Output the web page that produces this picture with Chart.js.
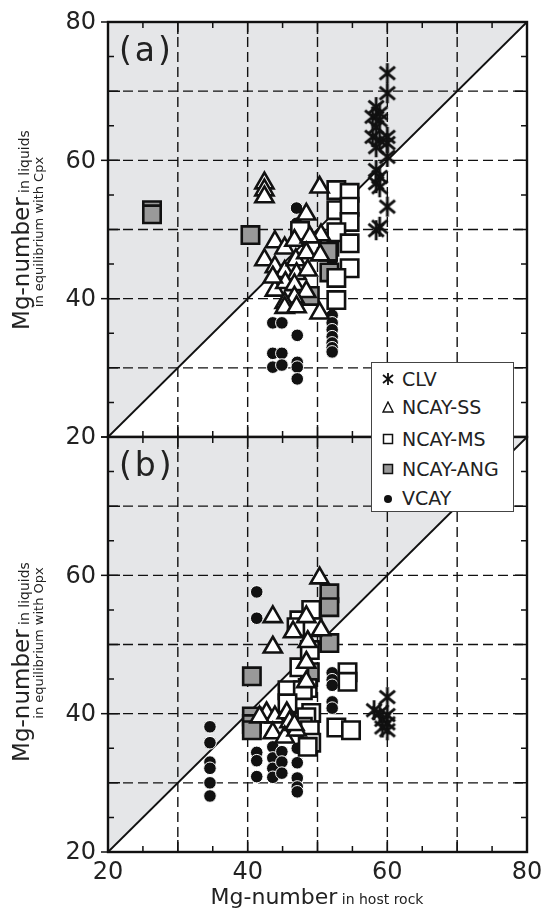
<!DOCTYPE html>
<html>
<head>
<meta charset="utf-8">
<script src="https://cdn.jsdelivr.net/npm/chart.js@4"></script>
<style>
body{margin:0;background:#fff;width:542px;height:913px;overflow:hidden;position:relative;font-family:"DejaVu Sans",sans-serif;color:#222}
canvas{position:absolute;left:0}
#ca{top:0}
#cb{top:425px}
#legend{position:absolute;left:371px;top:362px;width:143px;height:150px;background:#fff;border:1px solid #444;box-sizing:border-box;z-index:5}
.row{position:absolute;left:0;height:24px;line-height:24px;font-size:19px;white-space:nowrap}
.row svg{position:absolute;left:10px;top:6px}
.row span{position:absolute;left:30px}
</style>
</head>
<body>
<canvas id="ca" width="542" height="445"></canvas>
<canvas id="cb" width="542" height="488"></canvas>
<div id="legend">
  <div class="row" style="top:4px"><svg width="12" height="12"><g stroke="#111" stroke-width="1.8"><line x1="6" y1="0" x2="6" y2="12"/><line x1="1" y1="2" x2="11" y2="10"/><line x1="1" y1="10" x2="11" y2="2"/></g></svg><span>CLV</span></div>
  <div class="row" style="top:32px"><svg width="12" height="12"><polygon points="6,1 11,11 1,11" fill="#fff" stroke="#111" stroke-width="1.4"/></svg><span>NCAY-SS</span></div>
  <div class="row" style="top:64px"><svg width="12" height="12"><rect x="1.5" y="1.5" width="9" height="9" fill="#fff" stroke="#111" stroke-width="1.5"/></svg><span>NCAY-MS</span></div>
  <div class="row" style="top:94px"><svg width="12" height="12"><rect x="1.5" y="1.5" width="9" height="9" fill="#999" stroke="#111" stroke-width="1.5"/></svg><span>NCAY-ANG</span></div>
  <div class="row" style="top:123px"><svg width="12" height="12"><circle cx="6" cy="7" r="4" fill="#111"/></svg><span>VCAY</span></div>
</div>
<script>
// axis ticks
const axisTicks = [20, 30, 40, 50, 60, 70, 80];
const labelTicks = [20, 40, 60, 80];

// panel (a): liquids in equilibrium with Cpx  [host rock Mg#, liquid Mg#]
const clvA = [[60,72.6],[60,69.7],[58.4,67.7],[58.9,66.8],[57.9,66.3],[58.9,65.8],[58.4,64.8],[57.9,63.4],[58.9,62.9],[60,63.4],[60,62.5],[58.4,61.9],[60,60.5],[58.4,58.6],[58.9,57.6],[58.4,56.7],[58.9,56.1],[60,53.3],[58.9,50.4],[58.4,49.9]];
const ssA = [[42.4,56.7],[42.4,55.7],[42.4,54.7],[50.3,56.1],[48.4,52.2],[43.9,48.2],[45.3,47.3],[46.7,48.4],[50.5,49.2],[48.9,48.9],[42.4,45.6],[43.9,44.6],[45.3,43.9],[46.9,45.6],[47.0,43.6],[48.4,46.6],[48.6,44.1],[50.4,46.3],[43.9,41.2],[45.4,42.3],[46.7,42.0],[48.4,41.0],[46.7,40.2],[45.3,39.4],[45.3,38.7],[47.0,38.8],[50.3,37.9],[43.6,43.1]];
const msA = [[52.7,55.7],[54.6,55.3],[52.7,52.8],[54.6,53.3],[54.6,51.1],[52.7,49.6],[54.6,48.0],[54.6,44.4],[52.7,43.0],[52.7,39.8],[47.5,49.8]];
const angA = [[26.3,52.8],[26.3,52.2],[40.4,49.2],[51.7,47.5],[51.5,46.8],[51.7,43.8],[48.9,40.4]];
const vcA = [[47.0,53.1],[47.0,50.9],[52.1,45.6],[43.6,36.5],[44.9,36.5],[47.1,34.7],[43.6,32.1],[44.9,32.1],[43.6,30.1],[44.9,30.4],[47.1,30.8],[47.1,30.1],[47.1,28.4],[52.1,37.6],[52.1,36.5],[52.1,35.5],[52.1,34.5],[52.1,33.6],[52.1,32.9],[52.1,32.3]];

// panel (b): liquids in equilibrium with Opx
const clvB = [[60,42.4],[58.1,40.5],[60,39.8],[59.3,39.1],[60,38.6],[60,37.6],[59.3,38.0],[58.9,40.1]];
const ssB = [[43.6,54.0],[43.6,49.6],[50.3,59.6],[48.4,54.0],[46.5,51.8],[48.6,50.4],[50.5,52.1],[48.4,47.4],[48.4,44.6],[42.7,40.1],[43.9,39.5],[45.6,40.1],[46.0,38.8],[43.6,37.2],[45.3,36.6],[47.0,37.6],[41.7,39.5],[46.7,38.4]];
const msB = [[54.3,46.0],[54.3,44.6],[52.7,38.0],[54.8,37.6],[49.1,55.0],[47.4,53.5],[47.0,52.5],[49.3,52.5],[48.9,49.2],[47.4,46.7],[45.7,43.4],[48.6,43.7],[47.9,43.4],[45.7,41.5],[49.1,40.1],[48.4,39.5],[47.9,38.1],[48.9,37.6],[49.1,35.8],[48.6,35.2]];
const angB = [[40.6,45.4],[40.6,39.6],[40.6,38.5],[40.6,37.6],[51.7,57.4],[51.7,55.4],[51.7,50.2],[48.9,46.0]];
const vcB = [[41.3,57.6],[41.3,53.8],[34.6,38.1],[34.6,35.8],[34.6,33.0],[34.6,32.1],[34.6,30.0],[34.6,28.1],[41.3,34.4],[41.3,33.2],[41.3,30.9],[43.6,35.2],[43.6,33.6],[43.6,32.1],[43.6,30.8],[44.9,34.5],[44.9,33.0],[44.9,31.4],[47.1,35.0],[47.1,32.9],[47.1,30.7],[47.1,29.4],[47.1,28.7],[52.1,45.9],[52.1,44.9],[52.1,44.1],[52.1,41.7],[52.1,40.8]];

const pts = arr => arr.map(p => ({x: p[0], y: p[1]}));
const FONT = '"DejaVu Sans"';

function asterisk(size) {
  const c = document.createElement('canvas');
  c.width = c.height = size;
  const g = c.getContext('2d');
  g.strokeStyle = '#111'; g.lineWidth = 2.8;
  const m = size / 2, r = size / 2 - 1;
  [90, 40, 140].forEach(d => {
    const a = d * Math.PI / 180;
    g.beginPath();
    g.moveTo(m - r * Math.cos(a), m - r * Math.sin(a));
    g.lineTo(m + r * Math.cos(a), m + r * Math.sin(a));
    g.stroke();
  });
  return c;
}
const star = asterisk(22);

function sets(ss, ms, ang, vc, clv) {
  return [
    {label: 'NCAY-SS', data: pts(ss), pointStyle: 'triangle', pointRadius: 10.5, backgroundColor: '#fff', borderColor: '#111', borderWidth: 2.6},
    {label: 'NCAY-MS', data: pts(ms), pointStyle: 'rect', pointRadius: 12.3, backgroundColor: '#fff', borderColor: '#111', borderWidth: 2.6},
    {label: 'NCAY-ANG', data: pts(ang), pointStyle: 'rect', pointRadius: 12.3, backgroundColor: '#999', borderColor: '#111', borderWidth: 2.6},
    {label: 'VCAY', data: pts(vc), pointStyle: 'circle', pointRadius: 6.3, backgroundColor: '#111', borderColor: '#fff', borderWidth: 1},
    {label: 'CLV', data: pts(clv), pointStyle: star, pointRadius: 11}
  ];
}

function panel(label, yLabels, xLabels, title1, title2, t1y, t2y, xtitle) {
  return {
    id: 'panel',
    beforeDatasetsDraw(chart) {
      const {ctx, chartArea: a, scales: {x, y}} = chart;
      ctx.save();
      ctx.fillStyle = '#e5e6e8';
      ctx.beginPath();
      ctx.moveTo(x.getPixelForValue(20), y.getPixelForValue(20));
      ctx.lineTo(x.getPixelForValue(20), y.getPixelForValue(80));
      ctx.lineTo(x.getPixelForValue(80), y.getPixelForValue(80));
      ctx.closePath();
      ctx.fill();
      ctx.strokeStyle = '#111'; ctx.lineWidth = 1.4; ctx.setLineDash([10, 5]);
      axisTicks.slice(1, -1).forEach(v => {
        const px = x.getPixelForValue(v), py = y.getPixelForValue(v);
        ctx.beginPath(); ctx.moveTo(px, a.top); ctx.lineTo(px, a.bottom); ctx.stroke();
        ctx.beginPath(); ctx.moveTo(a.left, py); ctx.lineTo(a.right, py); ctx.stroke();
      });
      ctx.setLineDash([]);
      ctx.lineWidth = 1.8;
      ctx.beginPath();
      ctx.moveTo(x.getPixelForValue(20), y.getPixelForValue(20));
      ctx.lineTo(x.getPixelForValue(80), y.getPixelForValue(80));
      ctx.stroke();
      ctx.restore();
    },
    afterDatasetsDraw(chart) {
      const {ctx, chartArea: a, scales: {x, y}} = chart;
      ctx.save();
      ctx.strokeStyle = '#111'; ctx.lineWidth = 1.5;
      for (let v = 25; v < 80; v += 5) {
        const len = v % 10 === 0 ? 12 : 6;
        const px = x.getPixelForValue(v), py = y.getPixelForValue(v);
        ctx.beginPath();
        ctx.moveTo(a.left, py); ctx.lineTo(a.left + len, py);
        ctx.moveTo(a.right, py); ctx.lineTo(a.right - len, py);
        ctx.moveTo(px, a.top); ctx.lineTo(px, a.top + len);
        ctx.moveTo(px, a.bottom); ctx.lineTo(px, a.bottom - len);
        ctx.stroke();
      }
      labelTicks.forEach(v => {
        const py = y.getPixelForValue(v);
        ctx.beginPath(); ctx.moveTo(a.left - 7, py); ctx.lineTo(a.left, py); ctx.stroke();
      });
      ctx.lineWidth = 2.4;
      ctx.strokeRect(a.left, a.top, a.right - a.left, a.bottom - a.top);

      ctx.fillStyle = '#222';
      // tick labels
      ctx.font = '24px ' + FONT;
      ctx.textAlign = 'right'; ctx.textBaseline = 'middle';
      yLabels.forEach(v => ctx.fillText(String(v), a.left - 12, y.getPixelForValue(v) + 1));
      ctx.textAlign = 'center';
      xLabels.forEach(v => ctx.fillText(String(v), x.getPixelForValue(v), a.bottom + 21));

      ctx.textAlign = 'left'; ctx.textBaseline = 'alphabetic';
      ctx.font = '33px ' + FONT;
      ctx.letterSpacing = '3px';
      ctx.fillText(label, a.left + 11, a.top + 39);
      ctx.letterSpacing = '0px';

      // y title, two lines, mixed sizes
      const big = '23px ' + FONT, small = '14px ' + FONT, small2 = '13px ' + FONT;
      ctx.font = big; const w1 = ctx.measureText('Mg-number').width;
      ctx.font = small; const w2 = ctx.measureText(' ' + title1).width;
      ctx.font = small2; const w3 = ctx.measureText(title2).width;
      ctx.save();
      ctx.translate(29, t1y); ctx.rotate(-Math.PI / 2);
      ctx.font = big; ctx.fillText('Mg-number', -(w1 + w2) / 2, 0);
      ctx.font = small; ctx.fillText(' ' + title1, -(w1 + w2) / 2 + w1, 0);
      ctx.restore();
      ctx.save();
      ctx.translate(43, t2y); ctx.rotate(-Math.PI / 2);
      ctx.font = small2; ctx.fillText(title2, -w3 / 2, 0);
      ctx.restore();

      if (xtitle) {
        ctx.font = '22px ' + FONT; const xw1 = ctx.measureText('Mg-number').width;
        ctx.font = small; const xw2 = ctx.measureText(' ' + xtitle).width;
        const x0 = 317 - (xw1 + xw2) / 2;
        ctx.font = '22px ' + FONT; ctx.fillText('Mg-number', x0, 479);
        ctx.font = small; ctx.fillText(' ' + xtitle, x0 + xw1, 479);
      }
      ctx.restore();
    }
  };
}

function scales(xHeight) {
  return {
    x: {type: 'linear', min: 20, max: 80,
        afterBuildTicks: s => { s.ticks = axisTicks.map(v => ({value: v})); },
        ticks: {display: false}, grid: {display: false, drawTicks: false}, border: {display: false},
        afterFit: s => { s.height = xHeight; }},
    y: {type: 'linear', min: 20, max: 80,
        afterBuildTicks: s => { s.ticks = axisTicks.map(v => ({value: v})); },
        ticks: {display: false}, grid: {display: false, drawTicks: false}, border: {display: false},
        afterFit: s => { s.width = 108; }}
  };
}

const common = {
  responsive: false, animation: false, events: [],
  plugins: {legend: {display: false}, tooltip: {enabled: false}}
};

new Chart(document.getElementById('ca'), {
  type: 'scatter',
  data: {datasets: sets(ssA, msA, angA, vcA, clvA)},
  options: Object.assign({}, common, {
    layout: {autoPadding: false, padding: {top: 22, right: 15, bottom: 8, left: 0}},
    scales: scales(0)
  }),
  plugins: [panel('(a)', [20, 40, 60, 80], [], 'in liquids', 'in equilibrium with Cpx', 230, 232, null)]
});

new Chart(document.getElementById('cb'), {
  type: 'scatter',
  data: {datasets: sets(ssB, msB, angB, vcB, clvB)},
  options: Object.assign({}, common, {
    layout: {autoPadding: false, padding: {top: 12, right: 15, bottom: 0, left: 0}},
    scales: scales(61)
  }),
  plugins: [panel('(b)', [20, 40, 60], labelTicks, 'in liquids', 'in equilibrium with Opx', 237, 218, 'in host rock')]
});
</script>
</body>
</html>
